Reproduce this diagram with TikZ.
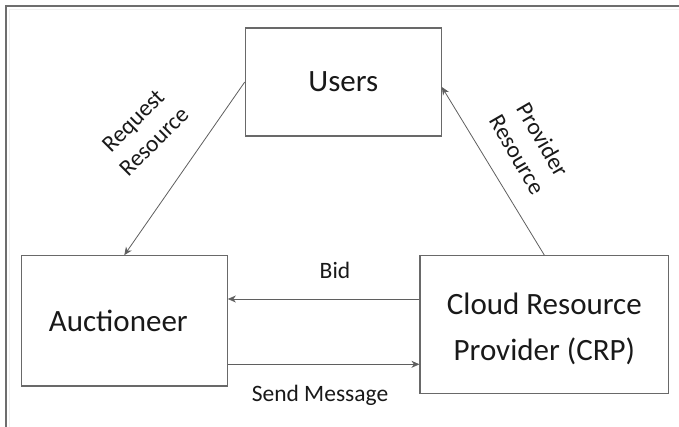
\documentclass[tikz,border=0pt]{standalone}
\usepackage{fontspec}
\setmainfont{Carlito}
\usetikzlibrary{arrows.meta,calc}
\definecolor{edgecol}{RGB}{95,95,95}
\definecolor{boxline}{RGB}{105,105,105}
\definecolor{txt}{RGB}{25,25,25}
\definecolor{framecol}{RGB}{110,110,110}
\begin{document}
\begin{tikzpicture}[x=1pt,y=-1pt,
  box/.style={draw=boxline, line width=1.1pt, rectangle, inner sep=0pt, text=txt,
    font=\fontsize{31}{46}\selectfont, align=center},
  arr/.style={draw=edgecol, line width=0.8pt, -{Stealth[length=8pt,width=7pt,inset=2.5pt]}},
  lbl/.style={text=txt, font=\fontsize{23.5}{29.5}\selectfont, inner sep=0pt, align=center}]
\useasboundingbox (0,0) rectangle (679,427);
% outer frame
\draw[gray!12, line width=1pt] (9.5,427) -- (9.5,9.5) -- (679,9.5);
\draw[framecol, line width=1.6pt] (6,427) -- (6,6) -- (679,6);
% boxes
\node[box, minimum width=196pt, minimum height=108pt] (users) at (343.3,82) {Users};
\node[box, minimum width=206pt, minimum height=130.3pt] (auc) at (124.3,320.85) {Auctioneer\hspace*{12pt}};
\node[box, minimum width=248.7pt, minimum height=137.6pt] (crp) at (544.35,324.5) {\rule{0pt}{31pt}Cloud Resource\\Provider (CRP)};
% helper coordinates
\coordinate (bidy) at (0,299);
\coordinate (sendy) at (0,364.3);
% connectors
\draw[arr] (users.west) -- (auc.north);
\draw[arr] (crp.north) -- ([yshift=-5pt]users.east);
\draw[arr] (crp.west |- bidy) -- (auc.east |- bidy);
\draw[arr] (auc.east |- sendy) -- (crp.west |- sendy);
% labels
\node[lbl, rotate=45] (reqlbl) at (143.5,131) {Request\\Resource};
\node[lbl, rotate=-60] (provlbl) at (530,147) {Provider\\Resource};
\node[lbl, anchor=base] (bidlbl) at (335,278.3) {Bid};
\node[lbl, anchor=base] (sendlbl) at (320,401.7) {Send Message};
\end{tikzpicture}
\end{document}
